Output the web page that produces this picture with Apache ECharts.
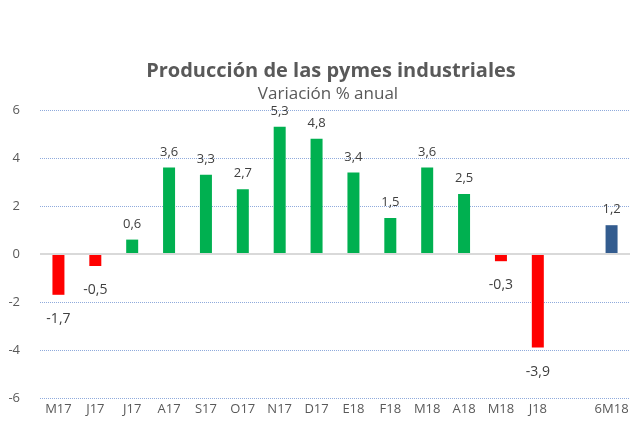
<!DOCTYPE html>
<html>
<head>
<meta charset="utf-8">
<script src="https://cdn.jsdelivr.net/npm/echarts@6/dist/echarts.min.js"></script>
<style>
  html, body { margin: 0; padding: 0; background: #fff; }
  #chart { width: 632px; height: 426px; }
</style>
</head>
<body>
<div id="chart"></div>
<script>
const categories = ['M17', 'J17', 'J17', 'A17', 'S17', 'O17', 'N17', 'D17', 'E18', 'F18', 'M18', 'A18', 'M18', 'J18', '', '6M18'];
const values = [-1.7, -0.5, 0.6, 3.6, 3.3, 2.7, 5.3, 4.8, 3.4, 1.5, 3.6, 2.5, -0.3, -3.9, null, 1.2];
const yTicks = { min: -6, max: 6, interval: 2 };

const textColor = '#595959';
const fontFamily = '"Open Sans", "Liberation Sans", sans-serif';

function barColor(value, name) {
    if (name === '6M18') return '#335C8F';
    return value < 0 ? '#FF0000' : '#00B050';
}

const chart = echarts.init(document.getElementById('chart'));

chart.setOption({
    animation: false,
    title: [
        {
            text: 'Producción de las pymes industriales',
            left: 326,
            textAlign: 'center',
            top: 56,
            textStyle: { fontFamily, fontSize: 20, fontWeight: 'bold', color: textColor }
        },
        {
            text: 'Variación % anual',
            left: 323,
            textAlign: 'center',
            top: 81,
            textStyle: { fontFamily, fontSize: 17, fontWeight: 'normal', color: textColor }
        }
    ],
    grid: { left: 40, right: 2, top: 110, bottom: 28 },
    xAxis: {
        type: 'category',
        data: categories,
        axisLine: { show: false },
        axisTick: { show: false },
        axisLabel: { color: textColor, fontFamily, fontSize: 13, margin: 5, interval: 0 }
    },
    yAxis: {
        type: 'value',
        min: yTicks.min,
        max: yTicks.max,
        interval: yTicks.interval,
        axisLine: { show: false },
        axisTick: { show: false },
        axisLabel: { color: textColor, fontFamily, fontSize: 13, margin: 20 },
        splitLine: { lineStyle: { color: '#8FAADC', type: [1, 1], width: 1 } }
    },
    series: [{
        type: 'bar',
        barWidth: 12,
        data: values.map((v, i) => ({
            value: v,
            itemStyle: { color: barColor(v, categories[i]) },
            label: v < 0
                ? { position: 'bottom', distance: 17, fontSize: 14 }
                : { position: 'top', distance: 9, fontSize: 13 }
        })),
        label: {
            show: true,
            color: '#404040',
            fontFamily,
            formatter: p => String(p.value).replace('.', ',')
        },
        markLine: {
            silent: true,
            symbol: 'none',
            label: { show: false },
            lineStyle: { color: '#D9D9D9', type: 'solid', width: 2 },
            data: [{ yAxis: 0 }]
        }
    }]
});
</script>
</body>
</html>
